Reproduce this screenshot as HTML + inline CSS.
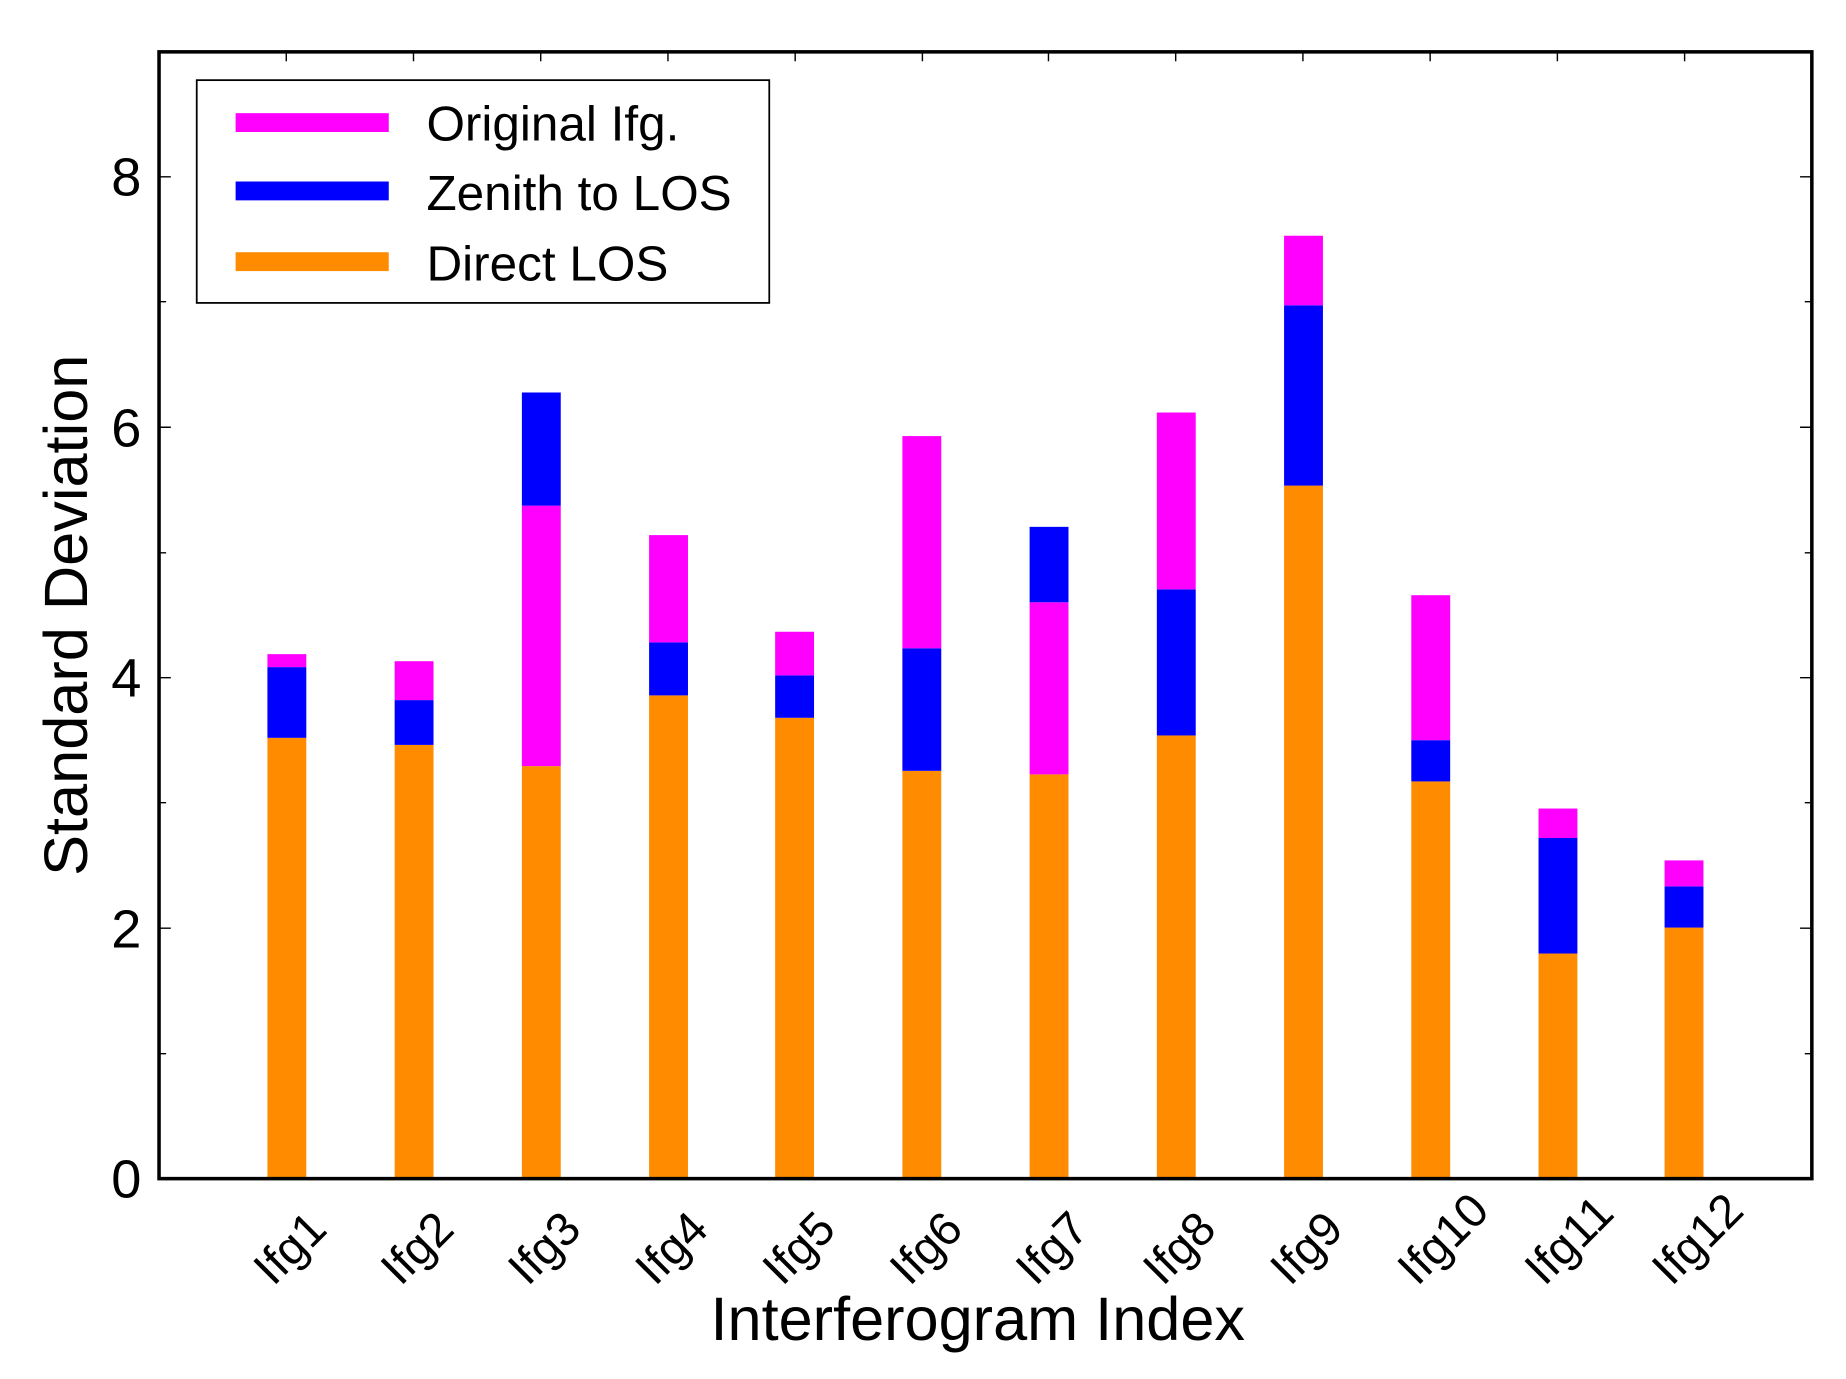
<!DOCTYPE html>
<html><head><meta charset="utf-8"><style>html,body{margin:0;padding:0;background:#fff}svg{display:block}</style></head>
<body>
<svg width="1846" height="1379" viewBox="0 0 1567 1170" preserveAspectRatio="none" xmlns="http://www.w3.org/2000/svg" font-family="Liberation Sans, sans-serif">
<rect width="1567" height="1170" fill="#fff"/>
<g id="bars">
<rect x="227" y="626" width="33" height="374" fill="#ff8c00"/><rect x="227" y="566" width="33" height="60" fill="#0000ff"/><rect x="227" y="555" width="33" height="11" fill="#ff00ff"/>
<rect x="335" y="632" width="33" height="368" fill="#ff8c00"/><rect x="335" y="594" width="33" height="38" fill="#0000ff"/><rect x="335" y="561" width="33" height="33" fill="#ff00ff"/>
<rect x="443" y="650" width="33" height="350" fill="#ff8c00"/><rect x="443" y="429" width="33" height="221" fill="#ff00ff"/><rect x="443" y="333" width="33" height="96" fill="#0000ff"/>
<rect x="551" y="590" width="33" height="410" fill="#ff8c00"/><rect x="551" y="545" width="33" height="45" fill="#0000ff"/><rect x="551" y="454" width="33" height="91" fill="#ff00ff"/>
<rect x="658" y="609" width="33" height="391" fill="#ff8c00"/><rect x="658" y="573" width="33" height="36" fill="#0000ff"/><rect x="658" y="536" width="33" height="37" fill="#ff00ff"/>
<rect x="766" y="654" width="33" height="346" fill="#ff8c00"/><rect x="766" y="550" width="33" height="104" fill="#0000ff"/><rect x="766" y="370" width="33" height="180" fill="#ff00ff"/>
<rect x="874" y="657" width="33" height="343" fill="#ff8c00"/><rect x="874" y="511" width="33" height="146" fill="#ff00ff"/><rect x="874" y="447" width="33" height="64" fill="#0000ff"/>
<rect x="982" y="624" width="33" height="376" fill="#ff8c00"/><rect x="982" y="500" width="33" height="124" fill="#0000ff"/><rect x="982" y="350" width="33" height="150" fill="#ff00ff"/>
<rect x="1090" y="412" width="33" height="588" fill="#ff8c00"/><rect x="1090" y="259" width="33" height="153" fill="#0000ff"/><rect x="1090" y="200" width="33" height="59" fill="#ff00ff"/>
<rect x="1198" y="663" width="33" height="337" fill="#ff8c00"/><rect x="1198" y="628" width="33" height="35" fill="#0000ff"/><rect x="1198" y="505" width="33" height="123" fill="#ff00ff"/>
<rect x="1306" y="809" width="33" height="191" fill="#ff8c00"/><rect x="1306" y="711" width="33" height="98" fill="#0000ff"/><rect x="1306" y="686" width="33" height="25" fill="#ff00ff"/>
<rect x="1413" y="787" width="33" height="213" fill="#ff8c00"/><rect x="1413" y="752" width="33" height="35" fill="#0000ff"/><rect x="1413" y="730" width="33" height="22" fill="#ff00ff"/>
</g>
<g stroke="#000" stroke-width="1.2">
<path d="M135 150h10M135 362.5h10M135 575h10M135 787.5h10M135 256h6M135 469h6M135 681h6M135 894h6"/>
<path d="M1538 150h-10M1538 362.5h-10M1538 575h-10M1538 787.5h-10M1538 256h-6M1538 469h-6M1538 681h-6M1538 894h-6"/>
<path d="M243 44v8M351 44v8M459 44v8M567 44v8M675 44v8M783 44v8M890 44v8M998 44v8M1106 44v8M1214 44v8M1322 44v8M1430 44v8"/>
</g>
<rect x="135" y="44" width="1403" height="956" fill="none" stroke="#000" stroke-width="3"/>
<rect x="167" y="68" width="486" height="189" fill="#fff" stroke="#000" stroke-width="1.5"/>
<rect x="200" y="96" width="130" height="16" fill="#ff00ff"/>
<rect x="200" y="154" width="130" height="16" fill="#0000ff"/>
<rect x="200" y="214" width="130" height="16" fill="#ff8c00"/>
<g font-size="42" fill="#000">
<text x="362" y="119">Original Ifg.</text>
<text x="362" y="178">Zenith to LOS</text>
<text x="362" y="238">Direct LOS</text>
</g>
<g font-size="46" fill="#000" text-anchor="end">
<text x="120" y="1016">0</text><text x="120" y="804">2</text><text x="120" y="591">4</text><text x="120" y="379">6</text><text x="120" y="166">8</text>
</g>
<g font-size="40" fill="#000">
<text transform="translate(232,1092) rotate(-45)">Ifg1</text>
<text transform="translate(340,1092) rotate(-45)">Ifg2</text>
<text transform="translate(448,1092) rotate(-45)">Ifg3</text>
<text transform="translate(556,1092) rotate(-45)">Ifg4</text>
<text transform="translate(664,1092) rotate(-45)">Ifg5</text>
<text transform="translate(772,1092) rotate(-45)">Ifg6</text>
<text transform="translate(879,1092) rotate(-45)">Ifg7</text>
<text transform="translate(987,1092) rotate(-45)">Ifg8</text>
<text transform="translate(1095,1092) rotate(-45)">Ifg9</text>
<text transform="translate(1203,1092) rotate(-45)">Ifg10</text>
<text transform="translate(1311,1092) rotate(-45)">Ifg11</text>
<text transform="translate(1419,1092) rotate(-45)">Ifg12</text>
</g>
<text x="830" y="1137" font-size="52" text-anchor="middle">Interferogram Index</text>
<text transform="translate(74,522) rotate(-90)" font-size="52" text-anchor="middle">Standard Deviation</text>
</svg>
</body></html>
